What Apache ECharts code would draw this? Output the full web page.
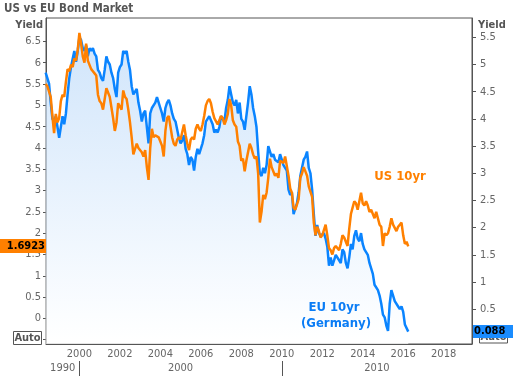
<!DOCTYPE html>
<html>
<head>
<meta charset="utf-8">
<script src="https://cdn.jsdelivr.net/npm/echarts@6/dist/echarts.min.js"></script>
<style>
  html, body { margin: 0; padding: 0; background: #fff; }
  #main { width: 513px; height: 376px; }
</style>
</head>
<body>
<div id="main"></div>
<script>
// monthly yields, first value = May 1998
var firstMonth = [1998, 5];

var us10y = [
  5.50, 5.45, 5.45, 5.20, 4.75, 4.35, 4.80, 4.60,
  4.70, 5.10, 5.25, 5.20, 5.55, 5.85, 5.80, 5.95, 5.90, 6.10, 6.05, 6.30,
  6.70, 6.45, 6.15, 6.00, 6.45, 6.05, 6.05, 5.85, 5.80, 5.75, 5.70, 5.25,
  5.10, 5.05, 4.90, 5.15, 5.40, 5.30, 5.20, 4.95, 4.70, 4.40, 4.60, 5.05,
  5.05, 4.90, 5.35, 5.20, 5.15, 4.90, 4.60, 4.25, 3.85, 3.85, 4.10, 4.00,
  4.00, 3.90, 3.80, 3.95, 3.55, 3.25, 4.00, 4.45, 4.25, 4.30, 4.30, 4.25,
  4.15, 4.05, 3.80, 4.40, 4.70, 4.75, 4.50, 4.25, 4.10, 4.05, 4.20, 4.25,
  4.20, 4.20, 4.55, 4.30, 4.10, 3.95, 4.20, 4.25, 4.20, 4.45, 4.55, 4.45,
  4.40, 4.55, 4.75, 5.00, 5.10, 5.15, 5.05, 4.85, 4.70, 4.70, 4.55, 4.55,
  4.75, 4.70, 4.55, 4.65, 4.80, 5.15, 5.00, 4.65, 4.55, 4.50, 4.15, 4.05,
  3.70, 3.75, 3.45, 3.70, 3.90, 4.10, 4.00, 3.85, 3.75, 3.80, 3.40, 2.25,
  2.50, 2.90, 2.80, 2.95, 3.30, 3.75, 3.55, 3.55, 3.35, 3.40, 3.30, 3.70,
  3.70, 3.65, 3.80, 3.80, 3.35, 3.05, 2.95, 2.60, 2.55, 2.55, 2.80, 3.30,
  3.40, 3.55, 3.45, 3.35, 3.10, 3.10, 2.85, 2.25, 1.95, 2.15, 2.05, 1.90,
  1.95, 1.95, 2.20, 1.95, 1.65, 1.60, 1.50, 1.65, 1.70, 1.70, 1.60, 1.75,
  1.95, 1.90, 1.90, 1.70, 2.10, 2.45, 2.60, 2.75, 2.70, 2.55, 2.75, 2.95,
  2.70, 2.65, 2.75, 2.65, 2.50, 2.55, 2.55, 2.35, 2.50, 2.35, 2.20, 2.15,
  1.70, 2.00, 1.95, 2.00, 2.15, 2.35, 2.20, 2.20, 2.05, 2.15, 2.20, 2.25,
  1.95, 1.75, 1.80, 1.6923
];

var eu10y = [
  4.85, 4.75, 4.65, 4.30, 4.00, 3.95, 4.05, 3.85,
  3.65, 3.85, 4.05, 3.90, 4.10, 4.45, 4.75, 4.95, 5.10, 5.25, 5.05, 5.25,
  5.50, 5.45, 5.30, 5.25, 5.35, 5.15, 5.30, 5.25, 5.30, 5.20, 5.15, 4.90,
  4.85, 4.75, 4.70, 4.90, 5.15, 5.05, 5.00, 4.85, 4.75, 4.55, 4.40, 4.85,
  4.95, 5.00, 5.25, 5.20, 5.25, 5.05, 4.90, 4.60, 4.45, 4.50, 4.55, 4.30,
  4.15, 3.95, 4.10, 4.15, 3.85, 3.55, 4.10, 4.20, 4.20, 4.30, 4.40, 4.30,
  4.20, 4.10, 3.95, 4.20, 4.30, 4.35, 4.25, 4.10, 4.00, 3.95, 3.80, 3.65,
  3.55, 3.60, 3.70, 3.45, 3.35, 3.15, 3.30, 3.25, 3.05, 3.30, 3.45, 3.35,
  3.35, 3.55, 3.70, 3.95, 4.00, 4.05, 4.05, 3.90, 3.75, 3.80, 3.75, 3.85,
  4.05, 4.05, 3.95, 4.20, 4.35, 4.60, 4.45, 4.30, 4.25, 4.35, 4.10, 4.30,
  4.00, 3.95, 3.80, 4.05, 4.30, 4.60, 4.45, 4.20, 4.05, 3.85, 3.40, 3.00,
  2.95, 3.10, 3.00, 3.15, 3.50, 3.50, 3.30, 3.35, 3.25, 3.25, 3.20, 3.35,
  3.25, 3.15, 3.10, 3.05, 2.70, 2.60, 2.65, 2.25, 2.35, 2.45, 2.65, 2.95,
  3.10, 3.25, 3.30, 3.40, 3.10, 3.00, 2.70, 2.25, 1.85, 2.05, 1.90, 1.85,
  1.85, 1.90, 1.80, 1.65, 1.30, 1.45, 1.30, 1.40, 1.50, 1.50, 1.40, 1.35,
  1.60, 1.55, 1.35, 1.25, 1.45, 1.70, 1.60, 1.85, 1.95, 1.80, 1.75, 1.90,
  1.70, 1.60, 1.55, 1.50, 1.35, 1.25, 1.15, 0.95, 0.95, 0.85, 0.75, 0.60,
  0.40, 0.35, 0.20, 0.10, 0.60, 0.85, 0.75, 0.65, 0.65, 0.55, 0.50, 0.55,
  0.45, 0.22, 0.20, 0.088
];

var leftTicks = [0, 0.5, 1, 1.5, 2, 2.5, 3, 3.5, 4, 4.5, 5, 5.5, 6, 6.5];
var rightTicks = [0, 0.5, 1, 1.5, 2, 2.5, 3, 3.5, 4, 4.5, 5, 5.5];
var yearTicks = [2000, 2002, 2004, 2006, 2008, 2010, 2012, 2014, 2016, 2018];
var decadeLabels = ['1990', '2000', '2010'];

var usLabel = '1.6923';
var euLabel = '0.088';

var xMin = 1998.35, xMax = 2019.4;
var FONT = '"DejaVu Sans Condensed", "DejaVu Sans", sans-serif';

function toPoints (values) {
  return values.map(function (v, i) {
    var m = firstMonth[1] - 1 + i;
    return [firstMonth[0] + m / 12, v];
  });
}

// where each decade label sits: middle of its visible stretch of the axis
var decadeAt = decadeLabels.map(function (d) {
  var a = Math.max(xMin, +d), b = Math.min(xMax, +d + 10);
  return (a + b) / 2;
});
var decadeEdges = decadeLabels.slice(1).map(Number);

var chart = echarts.init(document.getElementById('main'));

var labelStyle = { color: '#666', fontSize: 11, fontFamily: FONT };

chart.setOption({
  animation: false,
  grid: {
    left: 46, right: 41, top: 18, bottom: 32,
    show: true, borderColor: '#555', borderWidth: 1,
    outerBoundsMode: 'none'
  },
  xAxis: [
    {
      type: 'value', min: xMin, max: xMax, position: 'bottom',
      axisLine: { show: true, onZero: false, lineStyle: { color: '#555', width: 1 } },
      axisTick: { show: false },
      splitLine: { show: false },
      axisLabel: Object.assign({
        customValues: yearTicks, margin: 5,
        formatter: function (v) { return String(v); }
      }, labelStyle)
    },
    {
      type: 'value', min: xMin, max: xMax, position: 'bottom', offset: 17,
      axisLine: { show: false, onZero: false },
      axisTick: { show: true, customValues: decadeEdges, length: 15, lineStyle: { color: '#555' } },
      splitLine: { show: false },
      axisLabel: Object.assign({
        customValues: decadeAt, margin: 2,
        formatter: function (v) { return String(Math.floor(v / 10) * 10); }
      }, labelStyle)
    }
  ],
  yAxis: [
    {
      type: 'value', min: -0.6, max: 7.05, position: 'left',
      axisLine: { show: true, onZero: false, lineStyle: { color: '#555', width: 1 } },
      axisTick: { show: true, length: 3, customValues: [-0.5].concat(leftTicks), lineStyle: { color: '#555' } },
      splitLine: { show: false },
      axisLabel: Object.assign({ customValues: leftTicks, margin: 5 }, labelStyle)
    },
    {
      type: 'value', min: -0.14, max: 5.855, position: 'right',
      axisLine: { show: true, onZero: false, lineStyle: { color: '#555', width: 1 } },
      axisTick: { show: true, length: 4, customValues: rightTicks, lineStyle: { color: '#555' } },
      splitLine: { show: false },
      axisLabel: Object.assign({ customValues: rightTicks, margin: 8 }, labelStyle)
    }
  ],
  series: [
    {
      name: 'EU 10yr', type: 'line', yAxisIndex: 1, showSymbol: false, z: 2,
      data: toPoints(eu10y),
      lineStyle: { color: '#0a84ff', width: 2.5 },
      itemStyle: { color: '#0a84ff' },
      areaStyle: {
        origin: 'start',
        color: {
          type: 'linear', x: 0, y: 18, x2: 0, y2: 344, global: true,
          colorStops: [{ offset: 0, color: '#b8d7f8' }, { offset: 1, color: '#ffffff' }]
        }
      }
    },
    {
      name: 'US 10yr', type: 'line', yAxisIndex: 0, showSymbol: false, z: 3,
      data: toPoints(us10y),
      lineStyle: { color: '#ff8000', width: 2.5 },
      itemStyle: { color: '#ff8000' }
    }
  ]
});

// last-value tags and the small text bits round the plot
var yUs = chart.convertToPixel({ yAxisIndex: 0 }, us10y[us10y.length - 1]);
var yEu = chart.convertToPixel({ yAxisIndex: 1 }, eu10y[eu10y.length - 1]);

function txt (text, x, y, color, size, align) {
  return {
    type: 'text', x: x, y: y, z: 10,
    style: {
      text: text, fill: color, font: 'bold ' + size + 'px ' + FONT,
      align: align || 'left', verticalAlign: 'middle'
    }
  };
}

chart.setOption({
  graphic: [
    txt('US vs EU Bond Market', 4, 9, '#555', 11.5),
    txt('Yield', 43, 25, '#555', 11, 'right'),
    txt('Yield', 478, 25, '#555', 11),
    { type: 'rect', z: 9, shape: { x: 13.5, y: 331.5, width: 28, height: 13 },
      style: { fill: '#fff', stroke: '#555', lineWidth: 1 } },
    txt('Auto', 27.5, 338.5, '#555', 11, 'center'),
    { type: 'rect', z: 9, shape: { x: 479.5, y: 330.5, width: 28, height: 12.5 },
      style: { fill: '#fff', stroke: '#555', lineWidth: 1 } },
    txt('Auto', 493.5, 337.5, '#555', 11, 'center'),
    { type: 'rect', z: 10, shape: { x: 0, y: Math.round(yUs) - 7, width: 46, height: 14 },
      style: { fill: '#ff8000' } },
    txt(usLabel, 45, Math.round(yUs), '#000', 11, 'right'),
    { type: 'rect', z: 10, shape: { x: 473, y: Math.round(yEu) - 7, width: 40, height: 13 },
      style: { fill: '#1a8cff' } },
    txt(euLabel, 474, Math.round(yEu) - 0.5, '#000', 11),
    txt('US 10yr', 400, 177, '#ff8000', 13, 'center'),
    txt('EU 10yr', 334, 308, '#0a7cf5', 13, 'center'),
    txt('(Germany)', 336, 324, '#0a7cf5', 13, 'center')
  ]
});
</script>
</body>
</html>
